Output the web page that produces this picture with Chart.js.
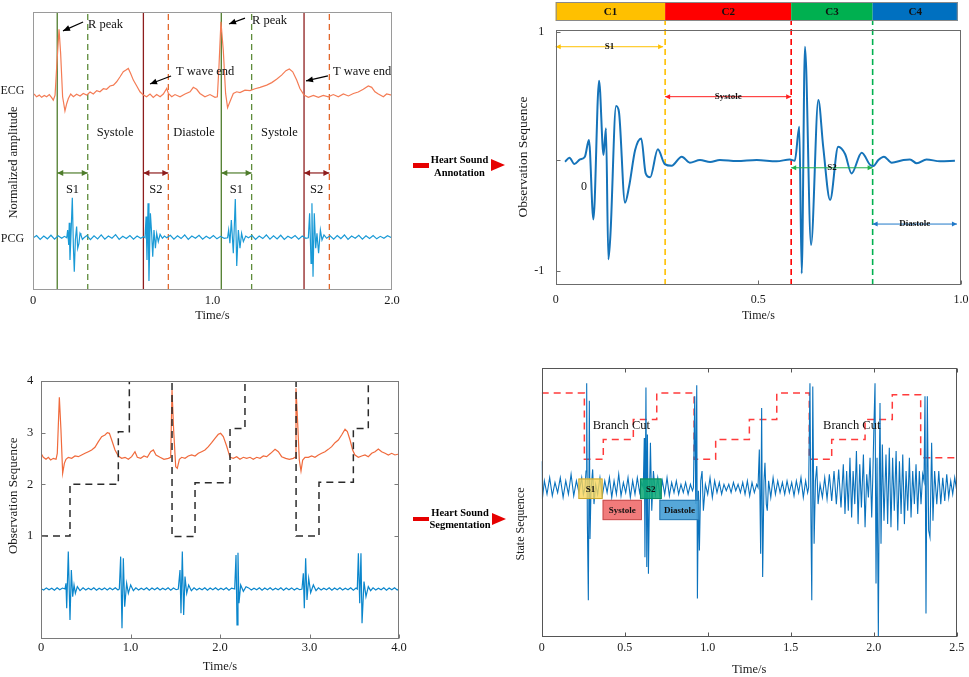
<!DOCTYPE html>
<html>
<head>
<meta charset="utf-8">
<title>Heart sound annotation and segmentation</title>
<script src="https://cdn.jsdelivr.net/npm/chart.js@4.4.1/dist/chart.umd.min.js"></script>
<style>
  html, body { margin: 0; padding: 0; background: #fff; }
  #page { position: relative; width: 969px; height: 677px; overflow: hidden; font-family: "Liberation Serif", "Times New Roman", serif; }
  #page canvas { position: absolute; }
  .step { position: absolute; width: 110px; text-align: center; font-weight: bold; font-size: 10.5px; color: #000; z-index: 2; }
  .bar { position: absolute; background: #e60000; z-index: 2; }
  .tip { position: absolute; width: 0; height: 0; border-left: 14px solid #e60000; border-top: 6.5px solid transparent; border-bottom: 6.5px solid transparent; z-index: 2; }
</style>
</head>
<body>
<div id="page">
  <canvas id="annot" width="410" height="330" style="left:0;top:0"></canvas>
  <canvas id="zoomed" width="469" height="330" style="left:500px;top:0"></canvas>
  <canvas id="observ" width="410" height="327" style="left:0;top:350px"></canvas>
  <canvas id="states" width="469" height="327" style="left:500px;top:350px"></canvas>

  <div class="bar" style="left:413px;top:163px;width:16px;height:5px"></div>
  <div class="step" style="left:404.5px;top:152.5px;line-height:13.4px">Heart Sound<br>Annotation</div>
  <div class="tip" style="left:491px;top:159px"></div>

  <div class="bar" style="left:413px;top:516.5px;width:16px;height:4.5px"></div>
  <div class="step" style="left:405px;top:506.5px;line-height:12.4px">Heart Sound<br>Segmentation</div>
  <div class="tip" style="left:492px;top:512.5px"></div>
</div>
<script>
// ---- top left: ECG / PCG with annotations (time in s, normalized amplitude 0..1)
const ecgTop = [[0.006,.705],[0.020,.695],[0.035,.701],[0.048,.693],[0.063,.700],[0.076,.695],[0.091,.703],[0.104,.692],[0.113,.683],[0.123,.701],[0.132,.803],[0.145,.938],[0.154,.851],[0.165,.695],[0.178,.644],[0.188,.671],[0.197,.689],[0.210,.705],[0.225,.695],[0.243,.704],[0.262,.698],[0.280,.707],[0.299,.701],[0.318,.712],[0.336,.705],[0.355,.717],[0.373,.713],[0.392,.724],[0.410,.722],[0.429,.734],[0.448,.737],[0.466,.749],[0.485,.767],[0.503,.785],[0.518,.791],[0.531,.797],[0.544,.779],[0.559,.755],[0.578,.734],[0.596,.713],[0.615,.701],[0.633,.695],[0.652,.705],[0.670,.693],[0.689,.703],[0.708,.695],[0.726,.705],[0.745,.725],[0.754,.707],[0.773,.695],[0.791,.703],[0.819,.695],[0.847,.705],[0.875,.713],[0.893,.729],[0.912,.722],[0.930,.707],[0.958,.695],[0.986,.703],[1.014,.693],[1.027,.695],[1.036,.803],[1.047,.965],[1.060,.863],[1.073,.707],[1.084,.656],[1.097,.677],[1.116,.707],[1.135,.713],[1.153,.710],[1.181,.719],[1.209,.717],[1.237,.724],[1.265,.729],[1.302,.737],[1.330,.746],[1.357,.758],[1.385,.773],[1.409,.789],[1.428,.795],[1.447,.785],[1.469,.755],[1.487,.725],[1.510,.701],[1.534,.693],[1.562,.700],[1.590,.693],[1.617,.700],[1.645,.695],[1.673,.703],[1.701,.695],[1.729,.705],[1.757,.698],[1.785,.707],[1.812,.712],[1.840,.722],[1.868,.734],[1.887,.729],[1.905,.713],[1.924,.705],[1.952,.695],[1.970,.705],[1.998,.701]];
const pcgTop = [[0.002,.188],[0.020,.196],[0.040,.182],[0.060,.194],[0.080,.184],[0.100,.197],[0.120,.183],[0.140,.195],[0.160,.186],[0.175,.193],[0.188,.188],[0.193,.216],[0.199,.162],[0.202,.242],[0.206,.108],[0.212,.204],[0.219,.332],[0.225,.156],[0.230,.066],[0.236,.180],[0.243,.228],[0.249,.150],[0.256,.168],[0.262,.204],[0.267,.198],[0.275,.182],[0.284,.188],[0.300,.196],[0.320,.181],[0.340,.195],[0.360,.184],[0.380,.198],[0.400,.183],[0.420,.194],[0.440,.186],[0.460,.199],[0.480,.182],[0.500,.193],[0.520,.185],[0.540,.196],[0.560,.183],[0.580,.194],[0.600,.186],[0.615,.192],[0.624,.188],[0.630,.264],[0.635,.108],[0.641,.312],[0.646,.032],[0.654,.276],[0.661,.204],[0.667,.120],[0.674,.216],[0.682,.150],[0.689,.204],[0.698,.174],[0.708,.200],[0.721,.186],[0.732,.194],[0.745,.188],[0.765,.197],[0.785,.183],[0.805,.195],[0.825,.185],[0.845,.198],[0.865,.182],[0.885,.194],[0.905,.186],[0.925,.197],[0.945,.183],[0.965,.193],[0.985,.185],[1.005,.196],[1.025,.184],[1.045,.193],[1.065,.186],[1.084,.188],[1.090,.216],[1.097,.168],[1.105,.252],[1.116,.132],[1.127,.327],[1.135,.086],[1.144,.216],[1.153,.150],[1.162,.204],[1.172,.174],[1.185,.194],[1.200,.188],[1.220,.196],[1.240,.182],[1.260,.194],[1.280,.185],[1.300,.198],[1.320,.183],[1.340,.195],[1.360,.184],[1.380,.197],[1.400,.182],[1.420,.193],[1.440,.186],[1.460,.196],[1.480,.183],[1.500,.194],[1.520,.186],[1.534,.188],[1.541,.276],[1.549,.096],[1.554,.312],[1.560,.048],[1.567,.276],[1.575,.150],[1.582,.204],[1.591,.132],[1.601,.216],[1.610,.180],[1.621,.198],[1.636,.186],[1.655,.195],[1.675,.183],[1.695,.196],[1.715,.185],[1.735,.198],[1.755,.182],[1.775,.194],[1.795,.186],[1.815,.197],[1.835,.183],[1.855,.195],[1.875,.185],[1.895,.196],[1.915,.184],[1.935,.193],[1.955,.186],[1.975,.195],[1.998,.188]];
const rPeakTimes = [0.135, 1.049];
const s1EndTimes = [0.305, 1.218];
const tWaveEndTimes = [0.615, 1.510];
const s2EndTimes = [0.754, 1.651];
const topLeftTicks = [0, 1, 2];
const topLeftTickLabels = ['0', '1.0', '2.0'];

// ---- top right: one cardiac cycle, 4 states
const pcgCycle = [[.023,-.085],[.034,-.052],[.046,-.105],[.060,-.066],[.072,-.043],[.082,.096],[.093,-.568],[.107,.593],[.118,-.029],[.124,.194],[.130,-.902],[.135,-.699],[.149,.381],[.156,.333],[.171,-.428],[.181,-.294],[.196,.013],[.211,.110],[.222,-.183],[.233,-.216],[.252,.018],[.269,-.105],[.286,-.119],[.311,-.043],[.331,-.093],[.356,-.071],[.381,-.088],[.405,-.071],[.447,-.080],[.496,-.071],[.545,-.082],[.578,-.066],[.590,-.077],[.601,.208],[.607,-1.02],[.615,.877],[.630,-.782],[.648,.431],[.660,.040],[.677,-.406],[.697,.040],[.714,-.021],[.730,-.183],[.755,-.010],[.776,-.113],[.784,-.121],[.796,-.071],[.810,-.043],[.829,-.093],[.858,-.071],[.874,-.066],[.891,-.099],[.915,-.066],[.948,-.082],[.985,-.077]];
const stateEdges = [0, 0.27, 0.581, 0.782, 0.992];
const stateNames = ['C1', 'C2', 'C3', 'C4'];
const stateSpans = ['S1', 'Systole', 'S2', 'Diastole'];
const topRightTicks = [0, 0.5, 1];
const topRightTickLabels = ['0', '0.5', '1.0'];
const cycleYTicks = [-1, -0.071, 1];
const cycleYTickLabels = ['-1', '', '1'];

// ---- bottom left: ECG, PCG and observation sequence
const ecgLong = [[0,2.600],[.026,2.523],[.056,2.484],[.082,2.523],[.108,2.471],[.138,2.503],[.168,2.484],[.182,2.600],[.205,3.684],[.223,3.052],[.242,2.213],[.261,2.406],[.279,2.484],[.305,2.523],[.343,2.503],[.380,2.548],[.417,2.535],[.454,2.568],[.492,2.600],[.529,2.632],[.566,2.665],[.603,2.716],[.641,2.826],[.678,2.923],[.715,2.955],[.741,3.0],[.764,2.987],[.790,2.858],[.827,2.665],[.864,2.548],[.901,2.503],[.939,2.523],[.976,2.484],[1.013,2.535],[1.050,2.632],[1.076,2.523],[1.114,2.503],[1.151,2.548],[1.188,2.523],[1.225,2.632],[1.255,2.665],[1.285,2.568],[1.330,2.523],[1.374,2.484],[1.423,2.503],[1.449,2.523],[1.464,3.826],[1.482,3.052],[1.505,2.342],[1.523,2.310],[1.546,2.484],[1.572,2.523],[1.609,2.503],[1.646,2.548],[1.683,2.568],[1.721,2.548],[1.758,2.600],[1.795,2.632],[1.832,2.665],[1.870,2.729],[1.907,2.806],[1.944,2.890],[1.981,2.968],[2.007,2.987],[2.037,2.923],[2.074,2.742],[2.112,2.523],[2.149,2.503],[2.186,2.535],[2.223,2.484],[2.261,2.523],[2.298,2.503],[2.335,2.523],[2.372,2.484],[2.410,2.523],[2.447,2.503],[2.484,2.548],[2.521,2.535],[2.566,2.600],[2.615,2.677],[2.652,2.632],[2.689,2.535],[2.734,2.503],[2.775,2.484],[2.819,2.503],[2.838,2.523],[2.849,3.858],[2.868,3.181],[2.886,2.471],[2.905,2.258],[2.924,2.471],[2.950,2.523],[2.987,2.523],[3.024,2.548],[3.061,2.523],[3.099,2.568],[3.136,2.600],[3.173,2.632],[3.210,2.677],[3.248,2.729],[3.285,2.806],[3.322,2.858],[3.359,2.955],[3.397,3.065],[3.423,3.019],[3.453,2.858],[3.482,2.665],[3.508,2.568],[3.546,2.523],[3.583,2.548],[3.620,2.568],[3.657,2.535],[3.695,2.600],[3.732,2.632],[3.769,2.684],[3.806,2.632],[3.844,2.600],[3.881,2.568],[3.918,2.600],[3.955,2.568],[4.0,2.587]];
const pcgLong = [[0,-.02],[.03,-.045],[.06,-.005],[.09,-.04],[.12,-.01],[.15,-.05],[.18,-.002],[.21,-.04],[.24,-.008],[.268,-.026],[.279,.084],[.287,-.400],[.305,.697],[.324,-.626],[.339,.342],[.354,-.174],[.369,.052],[.384,-.110],[.406,.019],[.436,-.058],[.47,-.005],[.50,-.045],[.53,-.01],[.56,-.04],[.59,-.003],[.62,-.05],[.65,-.01],[.68,-.04],[.71,-.005],[.74,-.045],[.77,-.008],[.80,-.04],[.83,-.002],[.86,-.045],[.875,-.026],[.890,.600],[.905,-.787],[.920,.568],[.935,-.368],[.957,.084],[.976,-.110],[1.002,.052],[1.032,-.058],[1.06,-.005],[1.09,-.045],[1.12,-.01],[1.15,-.04],[1.18,-.002],[1.21,-.05],[1.24,-.008],[1.27,-.04],[1.30,-.004],[1.33,-.046],[1.36,-.01],[1.39,-.04],[1.42,-.003],[1.45,-.048],[1.48,-.008],[1.51,-.04],[1.534,-.026],[1.553,.342],[1.564,-.497],[1.579,.697],[1.594,-.529],[1.609,.213],[1.628,-.110],[1.650,.052],[1.680,-.058],[1.71,-.005],[1.74,-.045],[1.77,-.01],[1.80,-.04],[1.83,-.002],[1.86,-.05],[1.89,-.008],[1.92,-.04],[1.95,-.004],[1.98,-.046],[2.01,-.01],[2.04,-.04],[2.07,-.003],[2.10,-.048],[2.13,-.008],[2.164,-.026],[2.179,.632],[2.190,-.723],[2.201,.677],[2.212,-.303],[2.231,.052],[2.261,-.071],[2.291,.019],[2.32,-.005],[2.35,-.045],[2.38,-.01],[2.41,-.04],[2.44,-.002],[2.47,-.05],[2.50,-.008],[2.53,-.04],[2.56,-.004],[2.59,-.046],[2.62,-.01],[2.65,-.04],[2.68,-.003],[2.71,-.048],[2.74,-.008],[2.77,-.04],[2.80,-.005],[2.83,-.045],[2.86,-.01],[2.89,-.04],[2.916,-.026],[2.931,.277],[2.942,-.400],[2.957,.568],[2.972,-.239],[2.991,.181],[3.013,-.097],[3.043,.052],[3.073,-.058],[3.10,-.005],[3.13,-.045],[3.16,-.01],[3.19,-.04],[3.22,-.002],[3.25,-.05],[3.28,-.008],[3.31,-.04],[3.34,-.004],[3.37,-.046],[3.40,-.01],[3.43,-.04],[3.46,-.003],[3.49,-.048],[3.52,-.008],[3.534,-.026],[3.546,.665],[3.561,-.303],[3.575,.665],[3.587,-.690],[3.609,.116],[3.631,-.174],[3.657,.019],[3.683,-.058],[3.71,-.005],[3.74,-.045],[3.77,-.01],[3.80,-.04],[3.83,-.002],[3.86,-.05],[3.89,-.008],[3.92,-.04],[3.95,-.004],[3.98,-.046],[4.0,-.02]];
const observationSteps = [[0,1],[0.324,2],[0.864,3.02],[0.987,4],[1.464,0.99],[1.721,2.03],[2.112,3.08],[2.279,4],[2.850,1],[3.106,2.04],[3.490,3.08],[3.657,4],[4.0,4]];
const bottomLeftTicks = [0, 1, 2, 3, 4];
const bottomLeftTickLabels = ['0', '1.0', '2.0', '3.0', '4.0'];
const observationYTicks = [1, 2, 3, 4];
const observationYTickLabels = ['1', '2', '3', '4'];

// ---- bottom right: segmented recording and state sequence
const pcgSeg = [[.000,.658],[.004,.516],[.016,.584],[.032,.534],[.048,.596],[.064,.528],[.080,.578],[.096,.540],[.112,.596],[.129,.522],[.145,.584],[.161,.534],[.177,.609],[.193,.528],[.209,.584],[.225,.540],[.241,.596],[.251,.534],[.261,.559],[.267,.621],[.271,.950],[.275,.435],[.281,.137],[.287,.884],[.291,.366],[.297,.547],[.307,.627],[.315,.497],[.325,.571],[.337,.534],[.351,.596],[.365,.528],[.380,.584],[.394,.540],[.408,.596],[.422,.522],[.436,.584],[.450,.534],[.464,.609],[.478,.528],[.492,.578],[.506,.540],[.520,.596],[.534,.522],[.548,.584],[.562,.534],[.576,.596],[.590,.540],[.602,.578],[.612,.559],[.618,.745],[.622,.298],[.628,.934],[.633,.261],[.637,.758],[.643,.236],[.649,.522],[.655,.727],[.663,.472],[.673,.621],[.685,.534],[.699,.596],[.713,.522],[.727,.584],[.741,.534],[.755,.596],[.769,.528],[.783,.578],[.797,.540],[.811,.584],[.825,.534],[.839,.571],[.853,.540],[.867,.578],[.882,.534],[.896,.571],[.908,.547],[.914,.559],[.922,.901],[.928,.497],[.934,.942],[.938,.143],[.944,.547],[.950,.323],[.958,.584],[.966,.621],[.974,.472],[.986,.571],[1.000,.534],[1.014,.596],[1.028,.522],[1.042,.584],[1.056,.540],[1.070,.578],[1.084,.534],[1.098,.571],[1.112,.547],[1.127,.571],[1.141,.540],[1.155,.578],[1.169,.547],[1.183,.571],[1.197,.540],[1.211,.578],[1.225,.534],[1.239,.584],[1.253,.528],[1.267,.578],[1.281,.540],[1.295,.571],[1.303,.559],[1.311,.702],[1.319,.311],[1.325,.857],[1.331,.224],[1.339,.584],[1.345,.652],[1.353,.497],[1.359,.472],[1.367,.584],[1.380,.522],[1.394,.596],[1.408,.534],[1.422,.584],[1.436,.540],[1.450,.578],[1.464,.534],[1.478,.584],[1.492,.540],[1.506,.578],[1.520,.528],[1.534,.584],[1.548,.540],[1.562,.596],[1.576,.522],[1.590,.584],[1.602,.540],[1.608,.559],[1.616,.950],[1.622,.435],[1.627,.137],[1.633,.938],[1.641,.348],[1.649,.584],[1.657,.640],[1.665,.497],[1.677,.571],[1.691,.522],[1.705,.596],[1.719,.516],[1.733,.609],[1.747,.509],[1.761,.621],[1.775,.497],[1.789,.627],[1.803,.484],[1.817,.646],[1.827,.460],[1.837,.621],[1.847,.472],[1.857,.671],[1.867,.447],[1.876,.621],[1.886,.497],[1.896,.696],[1.906,.422],[1.916,.646],[1.926,.484],[1.938,.683],[1.948,.410],[1.958,.609],[1.968,.522],[1.978,.671],[1.988,.447],[1.994,.584],[2.002,.807],[2.008,.950],[2.014,.199],[2.020,.671],[2.028,.000],[2.034,.621],[2.038,.876],[2.044,.348],[2.052,.720],[2.062,.435],[2.074,.683],[2.084,.422],[2.094,.708],[2.104,.410],[2.114,.671],[2.124,.472],[2.135,.696],[2.145,.398],[2.155,.658],[2.165,.460],[2.175,.683],[2.185,.422],[2.195,.621],[2.205,.472],[2.215,.671],[2.225,.447],[2.235,.621],[2.245,.497],[2.255,.646],[2.265,.460],[2.275,.621],[2.285,.497],[2.295,.609],[2.303,.584],[2.309,.901],[2.315,.087],[2.323,.901],[2.331,.398],[2.339,.373],[2.349,.727],[2.357,.435],[2.367,.621],[2.380,.497],[2.392,.621],[2.404,.497],[2.416,.596],[2.428,.509],[2.440,.609],[2.452,.522],[2.464,.584],[2.476,.534],[2.488,.596],[2.500,.547]];
const branchSteps = [[0,.913],[.257,.665],[.371,.739],[.552,.814],[.693,.913],[.918,.665],[1.048,.739],[1.251,.814],[1.416,.913],[1.612,.665],[1.747,.739],[1.948,.814],[2.112,.907],[2.283,.671],[2.5,.671]];
const bottomRightTicks = [0, 0.5, 1, 1.5, 2, 2.5];
const bottomRightTickLabels = ['0', '0.5', '1.0', '1.5', '2.0', '2.5'];
const segBoxNames = ['S1', 'S2', 'Systole', 'Diastole'];
const segBoxTimes = [[0.221, 0.367], [0.592, 0.723], [0.367, 0.604], [0.709, 0.950]];

const SERIF = '"Liberation Serif", "Times New Roman", serif';
Chart.defaults.font.family = SERIF;
Chart.defaults.color = '#1a1a1a';

function series(pairs, color, width, extra) {
    return Object.assign({
        data: pairs.map(p => ({ x: p[0], y: p[1] })),
        borderColor: color,
        borderWidth: width,
        pointRadius: 0,
        fill: false,
        tension: 0
    }, extra || {});
}

function xAxis(min, max, vals, names, o) {
    return {
        type: 'linear', min: min, max: max,
        grid: { display: false, drawTicks: false },
        border: { display: false },
        afterBuildTicks: s => { s.ticks = vals.map(v => ({ value: v })); },
        ticks: {
            padding: o.pad, maxRotation: 0, autoSkip: false,
            font: { size: o.size, lineHeight: 1 },
            callback: (v, i) => names[i]
        },
        title: {
            display: true, text: 'Time/s',
            font: { size: o.titleSize, lineHeight: 1 },
            padding: { top: 0, bottom: o.titlePad }
        },
        afterFit: s => { s.height = o.h; s.paddingLeft = 0; s.paddingRight = 0; }
    };
}

function yAxis(min, max, vals, names, o) {
    return {
        type: 'linear', min: min, max: max,
        grid: { display: false, drawTicks: false },
        border: { display: false },
        afterBuildTicks: s => { s.ticks = vals.map(v => ({ value: v })); },
        ticks: {
            display: names.length > 0, padding: o.pad || 0,
            font: { size: o.size || 12, lineHeight: 1 },
            callback: (v, i) => names[i]
        },
        afterFit: s => { s.width = o.w; s.paddingTop = 0; s.paddingBottom = 0; }
    };
}

function arrowTip(ctx, x1, y1, x2, y2, len, half) {
    const a = Math.atan2(y2 - y1, x2 - x1), c = Math.cos(a), s = Math.sin(a);
    ctx.beginPath();
    ctx.moveTo(x2, y2);
    ctx.lineTo(x2 - len * c + half * s, y2 - len * s - half * c);
    ctx.lineTo(x2 - len * c - half * s, y2 - len * s + half * c);
    ctx.closePath();
    ctx.fill();
}

// extra drawing per canvas (frames, annotations), looked up by canvas id
const decorById = {};

const decorPlugin = {
    id: 'decor',
    afterDatasetsDraw(chart) {
        const d = decorById[chart.canvas.id];
        if (!d) return;
        const ctx = chart.ctx, ca = chart.chartArea;
        const sx = chart.scales.x, sy = chart.scales.y;
        const X = v => sx.getPixelForValue(v), Y = v => sy.getPixelForValue(v);
        ctx.save();

        if (d.bar) {
            const b = d.bar;
            for (let i = 0; i < b.names.length; i++) {
                const x0 = X(b.edges[i]), x1 = X(b.edges[i + 1]);
                ctx.fillStyle = b.colors[i];
                ctx.fillRect(x0, b.top, x1 - x0, b.bottom - b.top);
                ctx.fillStyle = '#111';
                ctx.font = 'bold 11px ' + SERIF;
                ctx.textAlign = 'center';
                ctx.textBaseline = 'middle';
                ctx.fillText(b.names[i], (x0 + x1) / 2, (b.top + b.bottom) / 2 + 0.5);
            }
            ctx.strokeStyle = '#8a8a8a';
            ctx.lineWidth = 1;
            const bx0 = X(b.edges[0]), bx1 = X(b.edges[b.edges.length - 1]);
            ctx.strokeRect(bx0 + 0.5, b.top + 0.5, bx1 - bx0 - 1, b.bottom - b.top - 1);
        }

        (d.boxes || []).forEach(bx => {
            const x0 = X(bx.x0), x1 = X(bx.x1), y0 = Y(bx.y1), y1 = Y(bx.y0);
            ctx.fillStyle = bx.fill;
            ctx.fillRect(x0, y0, x1 - x0, y1 - y0);
            ctx.strokeStyle = bx.edge;
            ctx.lineWidth = 1;
            ctx.strokeRect(x0 + 0.5, y0 + 0.5, x1 - x0 - 1, y1 - y0 - 1);
            ctx.fillStyle = '#111';
            ctx.font = 'bold 9px ' + SERIF;
            ctx.textAlign = 'center';
            ctx.textBaseline = 'middle';
            ctx.fillText(bx.text, (x0 + x1) / 2, (y0 + y1) / 2 + 0.5);
        });

        (d.arrows || []).forEach(a => {
            const x1 = X(a.x1), y1 = Y(a.y1), x2 = X(a.x2), y2 = Y(a.y2);
            ctx.strokeStyle = a.color;
            ctx.fillStyle = a.color;
            ctx.lineWidth = a.width || 1;
            ctx.beginPath();
            ctx.moveTo(x1, y1);
            ctx.lineTo(x2, y2);
            ctx.stroke();
            arrowTip(ctx, x1, y1, x2, y2, a.len || 6, a.half || 2.5);
            if (a.both) arrowTip(ctx, x2, y2, x1, y1, a.len || 6, a.half || 2.5);
        });

        (d.texts || []).forEach(t => {
            ctx.fillStyle = t.color || '#111';
            ctx.font = (t.bold ? 'bold ' : '') + t.size + 'px ' + SERIF;
            ctx.textAlign = t.align || 'center';
            ctx.textBaseline = 'middle';
            ctx.fillText(t.text, X(t.x), Y(t.y));
        });

        // box frame
        const L = Math.round(ca.left) + 0.5, T = Math.round(ca.top) + 0.5;
        const R = Math.round(ca.right) - 0.5, B = Math.round(ca.bottom) - 0.5;
        ctx.strokeStyle = d.frame;
        ctx.lineWidth = 1;
        ctx.strokeRect(L, T, R - L, B - T);

        // inward tick marks
        ctx.beginPath();
        (d.tickSides || []).forEach(side => {
            const horiz = side === 'top' || side === 'bottom';
            const sc = horiz ? sx : sy;
            sc.ticks.forEach(t => {
                const p = Math.round(sc.getPixelForValue(t.value)) + 0.5;
                if (side === 'bottom') { ctx.moveTo(p, B); ctx.lineTo(p, B - 4); }
                if (side === 'top') { ctx.moveTo(p, T); ctx.lineTo(p, T + 4); }
                if (side === 'left') { ctx.moveTo(L, p); ctx.lineTo(L + 4, p); }
                if (side === 'right') { ctx.moveTo(R, p); ctx.lineTo(R - 4, p); }
            });
        });
        ctx.stroke();

        // text outside the plot (axis names)
        (d.labels || []).forEach(l => {
            ctx.save();
            ctx.translate(l.px, l.py);
            if (l.rot) ctx.rotate(l.rot * Math.PI / 180);
            ctx.font = l.size + 'px ' + SERIF;
            ctx.fillStyle = '#1a1a1a';
            ctx.textAlign = 'center';
            ctx.textBaseline = 'middle';
            ctx.fillText(l.text, 0, 0);
            ctx.restore();
        });
        ctx.restore();
    }
};

function build(id, datasets, scales, padding) {
    return new Chart(document.getElementById(id), {
        type: 'line',
        data: { datasets: datasets },
        options: {
            responsive: false,
            animation: false,
            layout: { padding: padding },
            plugins: { legend: { display: false }, tooltip: { enabled: false } },
            scales: scales
        },
        plugins: [decorPlugin]
    });
}

// ---------- chart 1
const green = '#4f7d2c', darkRed = '#8e1d1d', orange = '#e2692e';
const topLines = [];
rPeakTimes.forEach(t => topLines.push(series([[t, 0], [t, 1]], green, 1.3)));
s1EndTimes.forEach(t => topLines.push(series([[t, 0], [t, 1]], '#5e8c3a', 1.3, { borderDash: [6, 4] })));
tWaveEndTimes.forEach(t => topLines.push(series([[t, 0], [t, 1]], darkRed, 1.3)));
s2EndTimes.forEach(t => topLines.push(series([[t, 0], [t, 1]], orange, 1.3, { borderDash: [6, 4] })));

const spanArrows = [], spanTexts = [];
rPeakTimes.forEach((t, i) => {
    spanArrows.push({ x1: t, y1: 0.421, x2: s1EndTimes[i], y2: 0.421, color: green, both: true, width: 1.2, len: 6, half: 3 });
    spanTexts.push({ x: (t + s1EndTimes[i]) / 2, y: 0.36, text: 'S1', size: 12.5 });
});
tWaveEndTimes.forEach((t, i) => {
    spanArrows.push({ x1: t, y1: 0.421, x2: s2EndTimes[i], y2: 0.421, color: darkRed, both: true, width: 1.2, len: 6, half: 3 });
    spanTexts.push({ x: (t + s2EndTimes[i]) / 2, y: 0.36, text: 'S2', size: 12.5 });
});

decorById.annot = {
    frame: '#9a9a9a',
    arrows: spanArrows.concat([
        { x1: 0.279, y1: 0.964, x2: 0.167, y2: 0.932, color: '#000', width: 1.2, len: 7, half: 3 },
        { x1: 1.181, y1: 0.978, x2: 1.092, y2: 0.957, color: '#000', width: 1.2, len: 7, half: 3 },
        { x1: 0.769, y1: 0.770, x2: 0.652, y2: 0.741, color: '#000', width: 1.2, len: 7, half: 3 },
        { x1: 1.643, y1: 0.770, x2: 1.521, y2: 0.752, color: '#000', width: 1.2, len: 7, half: 3 }
    ]),
    texts: spanTexts.concat([
        { x: 0.306, y: 0.953, text: 'R peak', size: 12.5, align: 'left' },
        { x: 1.220, y: 0.968, text: 'R peak', size: 12.5, align: 'left' },
        { x: 0.797, y: 0.784, text: 'T wave end', size: 12.5, align: 'left' },
        { x: 1.671, y: 0.784, text: 'T wave end', size: 12.5, align: 'left' },
        { x: 0.457, y: 0.565, text: 'Systole', size: 12.5 },
        { x: 0.897, y: 0.565, text: 'Diastole', size: 12.5 },
        { x: 1.373, y: 0.565, text: 'Systole', size: 12.5 }
    ]),
    labels: [
        { px: 13.3, py: 162.5, text: 'Normalized amplitude', rot: -90, size: 12.5 },
        { px: 12.5, py: 91, text: 'ECG', size: 12 },
        { px: 12.5, py: 239, text: 'PCG', size: 12 }
    ]
};

build('annot',
    [series(ecgTop, '#f47c55', 1.2), series(pcgTop, '#1a9ad6', 1.2)].concat(topLines),
    {
        x: xAxis(0, 2, topLeftTicks, topLeftTickLabels, { pad: 4.75, size: 12.5, titleSize: 12.5, titlePad: 7.75, h: 40 }),
        y: yAxis(0, 1, [], [], { w: 33 })
    },
    { left: 0, top: 12, right: 18, bottom: 0 });

// ---------- chart 2
const stateColors = ['#ffc000', '#ff0000', '#00b050', '#0070c0'];
const spanColors = ['#ffc000', '#ff2020', '#22b04a', '#1f78c8'];
const spanLevels = [0.877, 0.459, -0.136, -0.607];
const spanFrom = [0, 0.27, 0.581, 0.782];
const spanTo = [0.265, 0.581, 0.782, 0.99];
const cycleArrows = [], cycleTexts = [];
stateSpans.forEach((name, i) => {
    cycleArrows.push({ x1: spanFrom[i], y1: spanLevels[i], x2: spanTo[i], y2: spanLevels[i], color: spanColors[i], both: true, width: 1, len: 5, half: 2.5 });
    cycleTexts.push({ x: (spanFrom[i] + spanTo[i]) / 2, y: spanLevels[i], text: name, size: 9, bold: true });
});
cycleTexts.push({ x: 0.07, y: -0.297, text: '0', size: 12 });

decorById.zoomed = {
    frame: '#6b6b6b',
    tickSides: ['left', 'bottom'],
    bar: { edges: stateEdges, names: stateNames, colors: stateColors, top: 2, bottom: 21 },
    arrows: cycleArrows,
    texts: cycleTexts,
    labels: [{ px: 23, py: 157, text: 'Observation Sequence', rot: -90, size: 13.5 }]
};

const cycleLines = [1, 2, 3].map(i =>
    series([[stateEdges[i], -1.117], [stateEdges[i], 1.092]], stateColors[i - 1], 1.6, { borderDash: [6, 4], clip: false }));

build('zoomed',
    [series(pcgCycle, '#1573b9', 2, { cubicInterpolationMode: 'monotone' })].concat(cycleLines),
    {
        x: xAxis(0, 1, topRightTicks, topRightTickLabels, { pad: 9, size: 12, titleSize: 12, titlePad: 8, h: 45 }),
        y: yAxis(-1.117, 1.017, cycleYTicks, cycleYTickLabels, { w: 55.7, pad: 11.5, size: 12 })
    },
    { left: 0, top: 30, right: 8, bottom: 0 });

// ---------- chart 3
decorById.observ = {
    frame: '#7a7a7a',
    tickSides: ['left', 'right', 'bottom'],
    labels: [{ px: 13.3, py: 145.8, text: 'Observation Sequence', rot: -90, size: 13 }]
};

build('observ',
    [
        series(observationSteps, '#2b2b2b', 1.5, { stepped: true, borderDash: [7, 5] }),
        series(ecgLong, '#f06a3c', 1.2),
        series(pcgLong, '#0a86cc', 1.2)
    ],
    {
        x: xAxis(0, 4, bottomLeftTicks, bottomLeftTickLabels, { pad: 2.2, size: 12.5, titleSize: 12.5, titlePad: 3.75, h: 37.7 }),
        y: yAxis(-1, 4, observationYTicks, observationYTickLabels, { w: 41, pad: 7.7, size: 12.5 })
    },
    { left: 0, top: 31, right: 11, bottom: 0 });

// ---------- chart 4
const segFill = ['rgba(250,214,90,0.8)', 'rgba(16,168,118,0.88)', 'rgba(240,112,112,0.92)', 'rgba(72,160,214,0.92)'];
const segEdge = ['#c9a62e', '#0b8a60', '#c85050', '#2a78b0'];
const segLow = [0.516, 0.516, 0.437, 0.437];
const segHigh = [0.593, 0.593, 0.513, 0.513];
decorById.states = {
    frame: '#555',
    tickSides: ['bottom', 'top'],
    boxes: segBoxNames.map((n, i) => ({ x0: segBoxTimes[i][0], x1: segBoxTimes[i][1], y0: segLow[i], y1: segHigh[i], fill: segFill[i], edge: segEdge[i], text: n })),
    texts: [
        { x: 0.307, y: 0.789, text: 'Branch Cut', size: 12.5, align: 'left' },
        { x: 1.695, y: 0.789, text: 'Branch Cut', size: 12.5, align: 'left' }
    ],
    labels: [{ px: 21, py: 174, text: 'State Sequence', rot: -90, size: 12 }]
};

build('states',
    [
        series(pcgSeg, '#0a72bd', 1.1),
        series(branchSteps, '#ff3b3b', 1.5, { stepped: true, borderDash: [7, 5] })
    ],
    {
        x: xAxis(0, 2.5, bottomRightTicks, bottomRightTickLabels, { pad: 5.6, size: 12, titleSize: 12.5, titlePad: 1, h: 40.3 }),
        y: yAxis(0, 1.006, [], [], { w: 41.7 })
    },
    { left: 0, top: 18.3, right: 12.3, bottom: 0 });
</script>
</body>
</html>
